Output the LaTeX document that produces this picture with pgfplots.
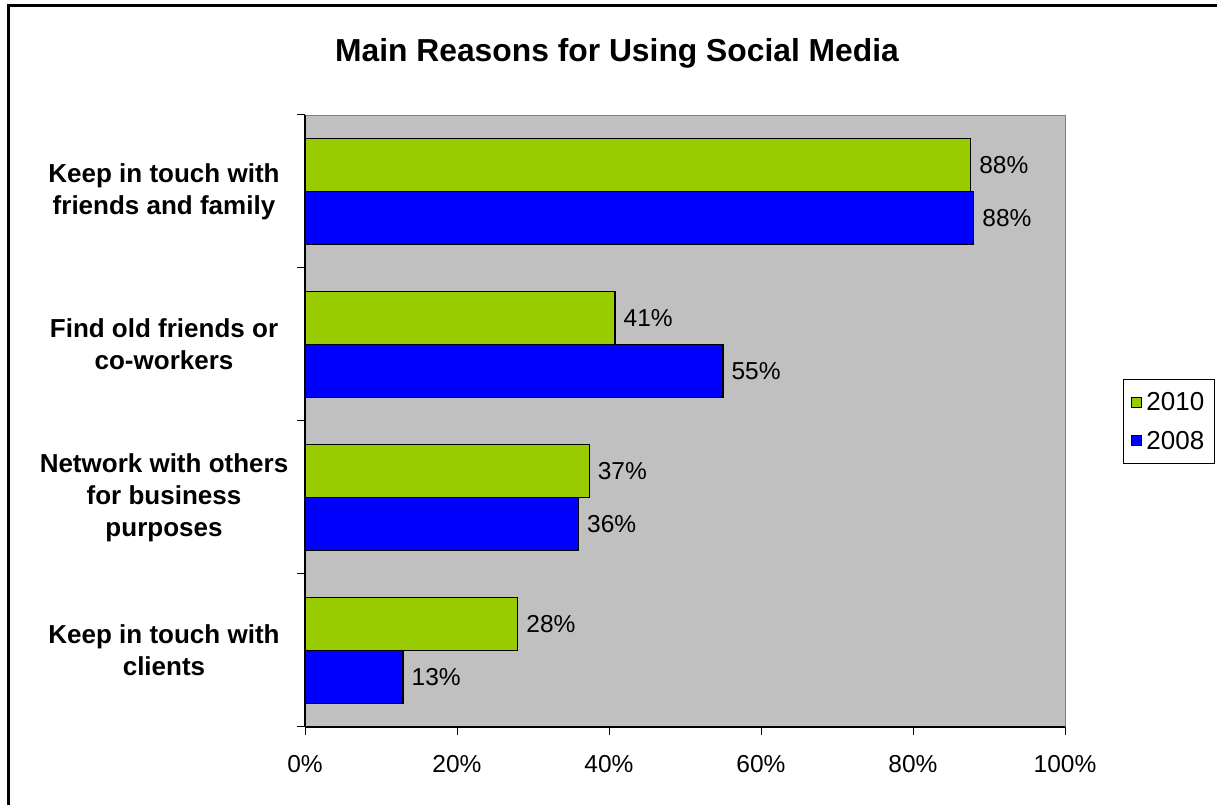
\documentclass[border=0pt]{standalone}
\usepackage{pgfplots}
\pgfplotsset{compat=1.18}
\usepackage{fontspec}
\setmainfont{Liberation Sans}
\definecolor{barGreen}{HTML}{99CC00}
\definecolor{barBlue}{HTML}{0000FF}
\definecolor{plotGray}{HTML}{C0C0C0}
\begin{document}
\begin{tikzpicture}
\useasboundingbox (0pt,0pt) rectangle (1217pt,805pt);
\draw[line width=2.5pt] (8.5pt,-5pt) -- (8.5pt,799.5pt) -- (1222pt,799.5pt);
\node[anchor=base, inner sep=0pt, font=\fontsize{31.8}{36}\selectfont\bfseries] at (617pt,743pt) {Main Reasons for Using Social Media};
\begin{axis}[
 at={(305pt,78pt)}, anchor=south west,
 width=760pt, height=612pt, scale only axis,
 xbar, bar width=53pt,
 xmin=0, xmax=100, ymin=-0.5, ymax=3.5,
 axis x line*=bottom, axis y line*=left,
 axis line style={black, line width=1.2pt, -},
 axis background/.style={fill=plotGray, draw=gray},
 xtick={0,20,...,100},
 xticklabel={\pgfmathprintnumber{\tick}\%},
 tick align=outside, major tick length=8pt,
 tick style={black, line width=1pt},
 ytick={-0.5,0.5,1.5,2.5,3.5}, yticklabels={},
 extra y ticks={0,1,2,3},
 extra y tick labels={{Keep in touch with\\clients},{Network with others\\for business\\purposes},{Find old friends or\\co-workers},{Keep in touch with\\friends and family}},
 extra y tick style={major tick length=0pt, yticklabel style={font=\fontsize{26}{32}\selectfont\bfseries, align=center, anchor=center, xshift=-141pt}},
 xticklabel style={font=\fontsize{24.5}{28}\selectfont, yshift=-17pt},
 /pgf/number format/assume math mode=true,
 point meta=x,
 nodes near coords={\pgfmathprintnumber[fixed,precision=0]{\pgfplotspointmeta}\%},
 nodes near coords style={font=\fontsize{24.5}{28}\selectfont, anchor=west, inner sep=0pt, xshift=8pt, black},
 legend style={at={(1.0763,0.5686)}, anchor=north west, draw=black, line width=0.8pt, fill=white, font=\fontsize{26}{30}\selectfont, inner xsep=8pt, inner ysep=11pt, row sep=15pt, /tikz/every odd column/.append style={column sep=2pt}},
 legend image code/.code={\draw[#1, line width=1pt] (0pt,-5pt) rectangle (10pt,5pt);},
 clip=false,
]
\addplot[fill=barGreen, draw=black, line width=1.2pt, bar shift=26.5pt] coordinates {(28,0) (37.4,1) (40.8,2) (87.6,3)};
\addplot[fill=barBlue, draw=black, line width=1.2pt, bar shift=-26.5pt] coordinates {(12.9,0) (36,1) (55,2) (88,3)};
\legend{2010,2008}
\end{axis}
\end{tikzpicture}
\end{document}
